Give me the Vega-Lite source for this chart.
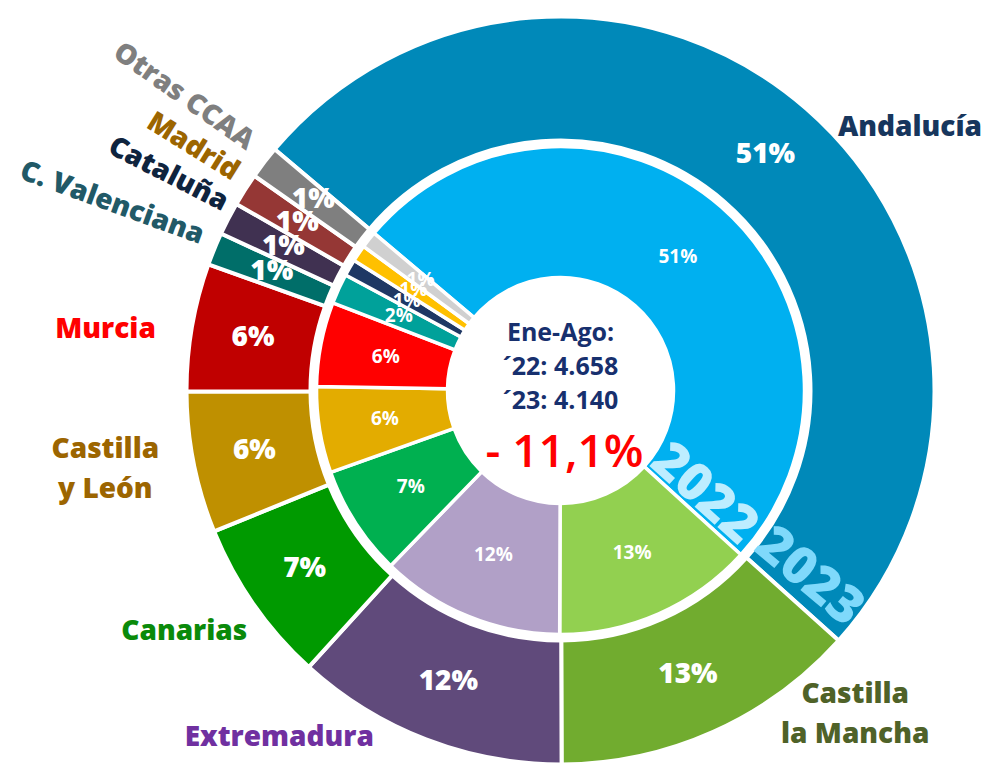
{
  "$schema": "https://vega.github.io/schema/vega-lite/v6.json",
  "autosize": "none",
  "width": 861,
  "height": 745,
  "padding": {"left": 130, "top": 18, "right": 0, "bottom": 0},
  "background": "white",
  "config": {"view": {"stroke": null}, "font": "Open Sans"},
  "data": {"values": [
    {"year": "2023", "region": "Andalucía", "share": 0.505, "idx": 1},
    {"year": "2023", "region": "Castilla la Mancha", "share": 0.133, "idx": 2},
    {"year": "2023", "region": "Extremadura", "share": 0.118, "idx": 3},
    {"year": "2023", "region": "Canarias", "share": 0.071, "idx": 4},
    {"year": "2023", "region": "Castilla y León", "share": 0.061, "idx": 5},
    {"year": "2023", "region": "Murcia", "share": 0.0552, "idx": 6},
    {"year": "2023", "region": "C. Valenciana", "share": 0.0142, "idx": 7},
    {"year": "2023", "region": "Cataluña", "share": 0.0142, "idx": 8},
    {"year": "2023", "region": "Madrid", "share": 0.0142, "idx": 9},
    {"year": "2023", "region": "Otras CCAA", "share": 0.0142, "idx": 10},
    {"year": "2022", "region": "Andalucía", "share": 0.506, "idx": 1},
    {"year": "2022", "region": "Castilla la Mancha", "share": 0.133, "idx": 2},
    {"year": "2022", "region": "Extremadura", "share": 0.122, "idx": 3},
    {"year": "2022", "region": "Canarias", "share": 0.073, "idx": 4},
    {"year": "2022", "region": "Castilla y León", "share": 0.057, "idx": 5},
    {"year": "2022", "region": "Murcia", "share": 0.056, "idx": 6},
    {"year": "2022", "region": "C. Valenciana", "share": 0.020, "idx": 7},
    {"year": "2022", "region": "Cataluña", "share": 0.011, "idx": 8},
    {"year": "2022", "region": "Madrid", "share": 0.011, "idx": 9},
    {"year": "2022", "region": "Otras CCAA", "share": 0.011, "idx": 10}
  ]},
  "resolve": {"scale": {"color": "independent"}},
  "layer": [
    {
      "transform": [{"filter": "datum.year === '2023'"}],
      "mark": {"type": "arc", "outerRadius": 374, "innerRadius": 250, "stroke": "white", "strokeWidth": 4},
      "encoding": {
        "theta": {"field": "share", "type": "quantitative", "stack": true, "scale": {"range": [-0.870, 5.4132]}},
        "order": {"field": "idx", "type": "quantitative"},
        "color": {"field": "region", "type": "nominal", "legend": null,
          "scale": {"domain": ["Andalucía", "Castilla la Mancha", "Extremadura", "Canarias", "Castilla y León", "Murcia", "C. Valenciana", "Cataluña", "Madrid", "Otras CCAA"],
            "range": ["#0089b9", "#71ac2f", "#604a7b", "#009a00", "#bf9000", "#c00000", "#006e69", "#403151", "#953735", "#7f7f7f"]}}
      }
    },
    {
      "transform": [{"filter": "datum.year === '2022'"}],
      "mark": {"type": "arc", "outerRadius": 244, "innerRadius": 113, "stroke": "white", "strokeWidth": 3.5},
      "encoding": {
        "theta": {"field": "share", "type": "quantitative", "stack": true, "scale": {"range": [-0.870, 5.4132]}},
        "order": {"field": "idx", "type": "quantitative"},
        "color": {"field": "region", "type": "nominal", "legend": null,
          "scale": {"domain": ["Andalucía", "Castilla la Mancha", "Extremadura", "Canarias", "Castilla y León", "Murcia", "C. Valenciana", "Cataluña", "Madrid", "Otras CCAA"],
            "range": ["#00b0f0", "#92d050", "#b1a0c7", "#00b050", "#e3ac00", "#ff0000", "#00a19a", "#1f3864", "#ffc000", "#d0d0d0"]}}
      }
    },
    {
      "transform": [{"filter": "datum.year === '2023'"}],
      "mark": {"type": "text", "radius": 312, "font": "Open Sans", "fontWeight": 800, "fontSize": 28, "color": "white", "align": "center", "baseline": "middle"},
      "encoding": {
        "theta": {"field": "share", "type": "quantitative", "stack": true, "scale": {"range": [-0.870, 5.4132]}},
        "order": {"field": "idx", "type": "quantitative"},
        "detail": {"field": "region", "type": "nominal"},
        "text": {"field": "share", "type": "quantitative", "format": ".0%"}
      }
    },
    {
      "transform": [{"filter": "datum.year === '2022'"}],
      "mark": {"type": "text", "radius": 178, "font": "Open Sans", "fontWeight": "bold", "fontSize": 19, "color": "white", "align": "center", "baseline": "middle"},
      "encoding": {
        "theta": {"field": "share", "type": "quantitative", "stack": true, "scale": {"range": [-0.870, 5.4132]}},
        "order": {"field": "idx", "type": "quantitative"},
        "detail": {"field": "region", "type": "nominal"},
        "text": {"field": "share", "type": "quantitative", "format": ".0%"}
      }
    },
    {
      "data": {"values": [{"t": 1}]},
      "mark": {"type": "text", "font": "Open Sans", "fontWeight": "bold", "fontSize": 25, "color": "#17306e", "align": "center", "baseline": "middle", "lineHeight": 34, "dy": -58},
      "encoding": {"text": {"value": ["Ene-Ago:", "´22: 4.658", "´23: 4.140"]}}
    },
    {
      "data": {"values": [{"t": 1}]},
      "mark": {"type": "text", "font": "Open Sans", "fontWeight": 600, "fontSize": 46, "color": "#ff0000", "align": "center", "baseline": "middle", "dx": 4, "dy": 62},
      "encoding": {"text": {"value": "- 11,1%"}}
    },
    {
      "transform": [{"aggregate": [{"op": "sum", "field": "share", "as": "total"}], "groupby": ["year"]}, {"filter": "datum.year === '2022'"}],
      "mark": {"type": "text", "theta": 2.194, "radius": 177, "angle": 42, "font": "Open Sans", "fontWeight": 800, "fontSize": 52, "color": "#bdedff", "align": "center", "baseline": "middle"},
      "encoding": {"text": {"field": "year"}}
    },
    {
      "transform": [{"aggregate": [{"op": "sum", "field": "share", "as": "total"}], "groupby": ["year"]}, {"filter": "datum.year === '2023'"}],
      "mark": {"type": "text", "theta": 2.213, "radius": 311, "angle": 40, "font": "Open Sans", "fontWeight": 800, "fontSize": 52, "color": "#7fd9fb", "align": "center", "baseline": "middle"},
      "encoding": {"text": {"field": "year"}}
    },
    {
      "transform": [{"filter": "datum.year === '2023' && datum.region === 'Andalucía'"}],
      "mark": {"type": "text", "theta": 0.927, "radius": 437, "font": "Open Sans", "fontWeight": 800, "fontSize": 28, "color": "#17365d", "align": "center", "baseline": "middle"},
      "encoding": {"text": {"field": "region"}}
    },
    {
      "transform": [{"filter": "datum.year === '2023' && datum.region === 'Castilla la Mancha'"}],
      "mark": {"type": "text", "theta": 2.373, "radius": 424, "font": "Open Sans", "fontWeight": 800, "fontSize": 28, "color": "#4f6228", "align": "center", "baseline": "middle", "lineHeight": 40, "lineBreak": {"expr": "regexp(' (?=la )')"}},
      "encoding": {"text": {"field": "region"}}
    },
    {
      "transform": [{"filter": "datum.year === '2023' && datum.region === 'Extremadura'"}],
      "mark": {"type": "text", "theta": 3.822, "radius": 447, "font": "Open Sans", "fontWeight": 800, "fontSize": 28, "color": "#7030a0", "align": "center", "baseline": "middle"},
      "encoding": {"text": {"field": "region"}}
    },
    {
      "transform": [{"filter": "datum.year === '2023' && datum.region === 'Canarias'"}],
      "mark": {"type": "text", "theta": 4.142, "radius": 447, "font": "Open Sans", "fontWeight": 800, "fontSize": 28, "color": "#0a8a0a", "align": "center", "baseline": "middle"},
      "encoding": {"text": {"field": "region"}}
    },
    {
      "transform": [{"filter": "datum.year === '2023' && datum.region === 'Castilla y León'"}],
      "mark": {"type": "text", "theta": 4.583, "radius": 459, "font": "Open Sans", "fontWeight": 800, "fontSize": 28, "color": "#9c6500", "align": "center", "baseline": "middle", "lineHeight": 40, "lineBreak": {"expr": "regexp(' (?=y )')"}},
      "encoding": {"text": {"field": "region"}}
    },
    {
      "transform": [{"filter": "datum.year === '2023' && datum.region === 'Murcia'"}],
      "mark": {"type": "text", "theta": 4.845, "radius": 459, "font": "Open Sans", "fontWeight": 800, "fontSize": 28, "color": "#ff0000", "align": "center", "baseline": "middle"},
      "encoding": {"text": {"field": "region"}}
    },
    {
      "transform": [{"filter": "datum.year === '2023' && datum.region === 'C. Valenciana'"}],
      "mark": {"type": "text", "theta": 5.107, "radius": 486, "angle": 20, "font": "Open Sans", "fontWeight": 800, "fontSize": 28, "color": "#215967", "align": "center", "baseline": "middle"},
      "encoding": {"text": {"field": "region"}}
    },
    {
      "transform": [{"filter": "datum.year === '2023' && datum.region === 'Cataluña'"}],
      "mark": {"type": "text", "theta": 5.215, "radius": 448, "angle": 27, "font": "Open Sans", "fontWeight": 800, "fontSize": 28, "color": "#0f243e", "align": "center", "baseline": "middle"},
      "encoding": {"text": {"field": "region"}}
    },
    {
      "transform": [{"filter": "datum.year === '2023' && datum.region === 'Madrid'"}],
      "mark": {"type": "text", "theta": 5.297, "radius": 441, "angle": 32, "font": "Open Sans", "fontWeight": 800, "fontSize": 28, "color": "#9c6500", "align": "center", "baseline": "middle"},
      "encoding": {"text": {"field": "region"}}
    },
    {
      "transform": [{"filter": "datum.year === '2023' && datum.region === 'Otras CCAA'"}],
      "mark": {"type": "text", "theta": 5.374, "radius": 478, "angle": 35, "font": "Open Sans", "fontWeight": 800, "fontSize": 28, "color": "#7f7f7f", "align": "center", "baseline": "middle"},
      "encoding": {"text": {"field": "region"}}
    }
  ]
}
